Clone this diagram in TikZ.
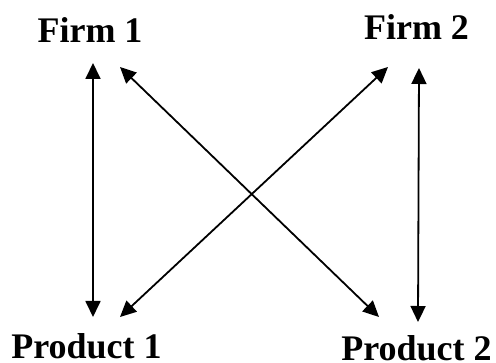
\documentclass[tikz,border=0pt]{standalone}
\usepackage{fontspec}
\setmainfont{Liberation Serif}
\usetikzlibrary{arrows.meta}
\begin{document}
\begin{tikzpicture}[x=1pt,y=-1pt,
  lbl/.style={anchor=base,inner sep=0pt,font=\fontsize{36}{40}\selectfont\bfseries},
  link/.style={line width=1.8pt,{Triangle[length=16pt,width=15pt]}-{Triangle[length=16pt,width=15pt]}}]
\useasboundingbox (0,0) rectangle (496,363);
\node[lbl] (f1) at (90,43) {Firm 1};
\node[lbl] (f2) at (416.5,40) {Firm 2};
\node[lbl] (p1) at (86.5,359) {Product 1};
\node[lbl] (p2) at (416.5,361) {Product 2};
\coordinate (f1a) at (93,63);
\coordinate (f1b) at (120,67);
\coordinate (f2a) at (388,67);
\coordinate (f2b) at (419,68);
\coordinate (p1a) at (93,317);
\coordinate (p1b) at (120,317);
\coordinate (p2a) at (379,317);
\coordinate (p2b) at (418,322);
\draw[link] (f1a) -- (p1a);
\draw[link] (f1b) -- (p2a);
\draw[link] (f2a) -- (p1b);
\draw[link] (f2b) -- (p2b);
\end{tikzpicture}
\end{document}
